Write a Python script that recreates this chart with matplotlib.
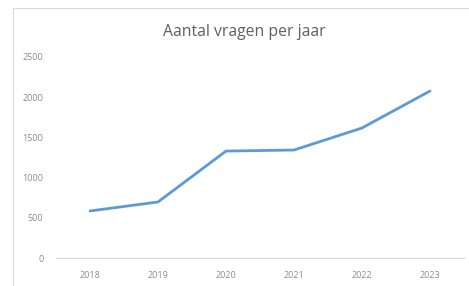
import matplotlib
matplotlib.use("Agg")
import matplotlib.pyplot as plt
from matplotlib.patches import Rectangle

years = ["2018", "2019", "2020", "2021", "2022", "2023"]
vragen = [585, 697, 1330, 1343, 1617, 2077]
yticks = [0, 500, 1000, 1500, 2000, 2500]

W, H = 469, 286
fig = plt.figure(figsize=(W / 100, H / 100), dpi=100)
fig.patch.set_facecolor("white")

# chart border
fig.patches.append(Rectangle((13 / W, -0.1), 1.2, 1 - 8 / H + 0.1, transform=fig.transFigure,
                             fill=False, edgecolor="#d9d9d9", linewidth=0.8))

ax = fig.add_axes([56 / W, 1 - 258 / H, 408 / W, 201 / H])
x = list(range(len(years)))
ax.plot(x, vragen, color="#5b9bd5", linewidth=2.0, solid_capstyle="round", solid_joinstyle="round")
ax.set_xlim(-0.5, len(years) - 0.5)
ax.set_ylim(0, 2500)
ax.set_xticks(x)
ax.set_xticklabels(years)
ax.set_yticks(yticks)
ax.set_yticklabels([str(v) for v in yticks])
for s in ["top", "right", "left"]:
    ax.spines[s].set_visible(False)
ax.spines["bottom"].set_color("#d9d9d9")
ax.spines["bottom"].set_linewidth(0.8)
ax.tick_params(axis="both", length=0, labelsize=6.5, labelcolor="#8c8c8c")
ax.tick_params(axis="x", pad=9)
ax.tick_params(axis="y", pad=9)
for lab in ax.get_xticklabels() + ax.get_yticklabels():
    lab.set_family("Open Sans")

fig.text(244 / W, 1 - 32 / H, "Aantal vragen per jaar", ha="center", va="center",
         fontsize=11.3, color="#606060", family="Open Sans")

fig.savefig("out.png", dpi=100)
